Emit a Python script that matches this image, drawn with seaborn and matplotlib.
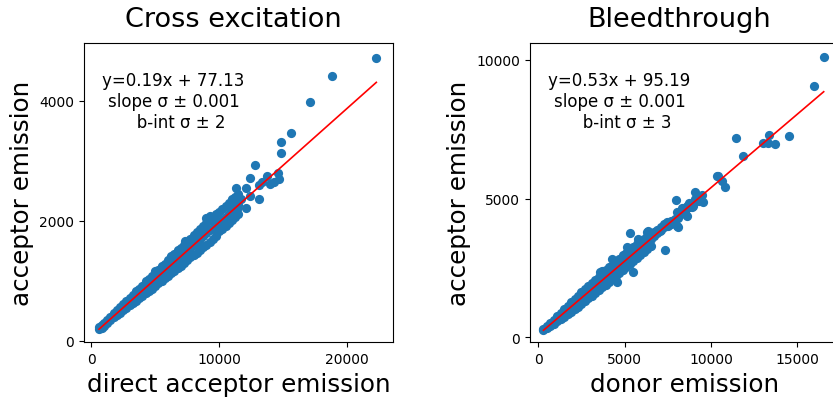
import matplotlib
matplotlib.use("Agg")
import matplotlib.pyplot as plt
import seaborn as sns
import numpy as np

# ---------------- data ----------------
# Cross excitation panel: (direct acceptor emission, acceptor emission)
cross_band = [
    (600, 200), (600, 230),
    (800, 210), (800, 230), (800, 260),
    (1000, 240), (1000, 270), (1000, 300),
    (1250, 290), (1250, 320), (1250, 350),
    (1500, 340), (1500, 370), (1500, 400),
    (1750, 390), (1750, 420), (1750, 455),
    (2000, 430), (2000, 470), (2000, 505),
    (2250, 470), (2250, 510), (2250, 555),
    (2500, 510), (2500, 560), (2500, 610),
    (2750, 550), (2750, 610), (2750, 660),
    (3000, 590), (3000, 650), (3000, 710),
    (3250, 630), (3250, 700), (3250, 760),
    (3500, 670), (3500, 740), (3500, 810), (3500, 830),
    (3750, 710), (3750, 790), (3750, 860),
    (4000, 750), (4000, 840), (4000, 920),
    (4250, 790), (4250, 890), (4250, 970), (4250, 990),
    (4500, 830), (4500, 930), (4500, 1030),
    (4750, 870), (4750, 980), (4750, 1080),
    (5000, 920), (5000, 1030), (5000, 1140), (5000, 1160),
    (5250, 960), (5250, 1080), (5250, 1180),
    (5500, 1000), (5500, 1120), (5500, 1230), (5500, 1250),
    (5750, 1040), (5750, 1170), (5750, 1280),
    (6000, 1080), (6000, 1220), (6000, 1340),
    (6250, 1130), (6250, 1270), (6250, 1390), (6250, 1420),
    (6500, 1170), (6500, 1310), (6500, 1440),
    (6750, 1210), (6750, 1360), (6750, 1490), (6750, 1520),
    (7000, 1250), (7000, 1410), (7000, 1550),
    (7250, 1300), (7250, 1460), (7250, 1600), (7300, 1660),
    (7500, 1340), (7500, 1500), (7500, 1650),
    (7750, 1390), (7750, 1550), (7750, 1700),
    (8000, 1430), (8000, 1600), (8000, 1760),
    (8250, 1470), (8250, 1650), (8250, 1810),
    (8500, 1510), (8500, 1690), (8500, 1860),
    (8750, 1560), (8750, 1740), (8750, 1910),
    (9000, 1600), (9000, 1790), (9000, 1960), (9000, 2050),
    (9250, 1650), (9250, 1840), (9250, 2020), (9250, 2080),
    (9500, 1690), (9500, 1880), (9500, 2060),
    (9750, 1740), (9750, 1930), (9750, 2110),
    (10000, 1830), (10000, 1980), (10000, 2150),
    (10250, 1870), (10250, 2020), (10250, 2200),
    (10500, 1920), (10500, 2070), (10500, 2240),
    (10750, 1970), (10750, 2120), (10750, 2290),
    (11000, 2020), (11000, 2170), (11000, 2340),
    (11250, 2070), (11250, 2220), (11250, 2400),
    (11500, 2120), (11500, 2260), (11500, 2450),
]
cross_outliers = [
    (22270, 4723), (18785, 4417), (17107, 3983), (15605, 3462),
    (14860, 3317), (14860, 3128), (12790, 2928), (12380, 2707),
    (13745, 2750), (14600, 2795), (14650, 2695), (14000, 2612),
    (13100, 2595), (13100, 2362), (12380, 2417), (12070, 2207),
    (11340, 2540), (12070, 2540), (11680, 2362), (11030, 2362),
    (11420, 2195), (13360, 2640), (14260, 2640),
]
cross_slope, cross_intercept = 0.19, 77.13
cross_text = "y=0.19x + 77.13\nslope σ ± 0.001\n   b-int σ ± 2"

# Bleedthrough panel: (donor emission, acceptor emission)
bleed_band = [
    (300, 250), (300, 300),
    (500, 320), (500, 360), (500, 410),
    (700, 400), (700, 460), (700, 510),
    (900, 490), (900, 570), (900, 630),
    (1100, 580), (1100, 680), (1100, 760),
    (1300, 660), (1300, 780), (1300, 880),
    (1500, 750), (1500, 890), (1500, 1010),
    (1700, 840), (1700, 990), (1700, 1130),
    (1900, 930), (1900, 1100), (1900, 1260),
    (2100, 1020), (2100, 1210), (2100, 1380),
    (2300, 1110), (2300, 1310), (2300, 1500),
    (2500, 1200), (2500, 1420), (2500, 1620),
    (2700, 1300), (2700, 1530), (2700, 1740),
    (2900, 1400), (2900, 1630), (2900, 1850),
    (3100, 1500), (3100, 1740), (3100, 1960),
    (3300, 1600), (3300, 1840), (3300, 2070),
    (3500, 1700), (3500, 1950), (3500, 2180),
    (3700, 1800), (3700, 2060), (3700, 2300),
    (3900, 1900), (3900, 2160), (3900, 2420),
    (4100, 2000), (4100, 2270), (4100, 2520),
    (4300, 2100), (4300, 2380), (4300, 2620),
    (4500, 2220), (4500, 2480), (4500, 2730),
    (4700, 2320), (4700, 2590), (4700, 2840),
    (4900, 2430), (4900, 2690), (4900, 2950),
    (5100, 2540), (5100, 2800), (5100, 3050),
    (5300, 2640), (5300, 2900), (5300, 3150),
    (5500, 2750), (5500, 3010), (5500, 3250),
    (5700, 2860), (5700, 3120), (5700, 3350),
    (5900, 2970), (5900, 3220), (5900, 3460),
    (6100, 3080), (6100, 3330), (6100, 3560),
    (6300, 3200), (6300, 3440), (6300, 3650),
    (6500, 3300), (6500, 3540), (6500, 3760),
    (6700, 3650), (6700, 3780),
    (6900, 3750), (6900, 3870),
    (7100, 3860), (7100, 3980),
    (7300, 3960), (7300, 4100),
    (7500, 4070), (7500, 4000),
    (7700, 4180), (7700, 4100),
    (7900, 4280), (7900, 4200),
    (8100, 4390), (8100, 4300),
    (8300, 4500), (8300, 4650),
    (8500, 4600), (8500, 4450),
    (8700, 4710), (8700, 4850),
    (8900, 4810), (8900, 4700),
    (9100, 4920), (9100, 5000),
    (9300, 5020), (9300, 4900),
    (9500, 5130),
]
bleed_outliers = [
    (16525, 10102), (15972, 9056), (11440, 7180), (11826, 6530),
    (13370, 7299), (13021, 7010), (13700, 6975), (14525, 7274),
    (13310, 7010), (10417, 5830), (10804, 5412), (10610, 5650),
    (9068, 5253), (7951, 4965), (7332, 3160), (5307, 3763),
    (5463, 2345), (4537, 1984), (5116, 3247), (4248, 2825),
    (9358, 4990), (8588, 4748), (8010, 4510), (8588, 4387),
    (8010, 4026), (8100, 3970), (7430, 4149), (7044, 3846),
    (6366, 3846), (6273, 3788), (6464, 3305), (5787, 3547),
    (5885, 3305), (5208, 2944), (4728, 2706), (4630, 2464),
    (3669, 2403), (3958, 2103), (3571, 2343), (9549, 4871),
    (8970, 4748), (8490, 4510), (10320, 5830),
]
bleed_slope, bleed_intercept = 0.53, 95.19
bleed_text = "y=0.53x + 95.19\nslope σ ± 0.001\n   b-int σ ± 3"

titles = ["Cross excitation", "Bleedthrough"]
xlabels = ["direct acceptor emission", "donor emission"]
ylabel = "acceptor emission"
cross_xticks = [0, 10000, 20000]
cross_yticks = [0, 2000, 4000]
bleed_xticks = [0, 5000, 10000, 15000]
bleed_yticks = [0, 5000, 10000]

# ---------------- plot ----------------
plt.rcParams["font.family"] = ["DejaVu Sans"]
fig = plt.figure(figsize=(8.33, 4.02), dpi=100)
W, H = 833, 402
ax1 = fig.add_axes([84 / W, (H - 343.3) / H, 308.7 / W, 299.3 / H])
ax2 = fig.add_axes([530 / W, (H - 343.3) / H, 308.7 / W, 299.3 / H])

panels = [
    (ax1, cross_band + cross_outliers, cross_slope, cross_intercept, cross_text,
     cross_xticks, cross_yticks, (-570, 23550), (-27, 4965)),
    (ax2, bleed_band + bleed_outliers, bleed_slope, bleed_intercept, bleed_text,
     bleed_xticks, bleed_yticks, (-481, 17394), (-180, 10610)),
]

for i, (ax, pts, m, b, txt, xt, yt, xl, yl) in enumerate(panels):
    xs = np.array([p[0] for p in pts], dtype=float)
    ys = np.array([p[1] for p in pts], dtype=float)
    sns.scatterplot(x=xs, y=ys, ax=ax, s=44, linewidth=0, color="#1f77b4")
    lx = np.array([xs.min(), xs.max()])
    ax.plot(lx, m * lx + b, color="red", lw=1.2)
    ax.set_xticks(xt)
    ax.set_yticks(yt)
    ax.set_xlim(*xl)
    ax.set_ylim(*yl)
    ax.tick_params(labelsize=10)
    ax.set_title(titles[i], fontsize=19.5, pad=12, x=0.483)
    ax.set_xlabel(xlabels[i], fontsize=17.75)
    ax.set_ylabel(ylabel, fontsize=17.75)
    ax.text(0.29, 0.806, txt, transform=ax.transAxes, ha="center",
            va="center", fontsize=12)

fig.savefig("out.png", dpi=100)
